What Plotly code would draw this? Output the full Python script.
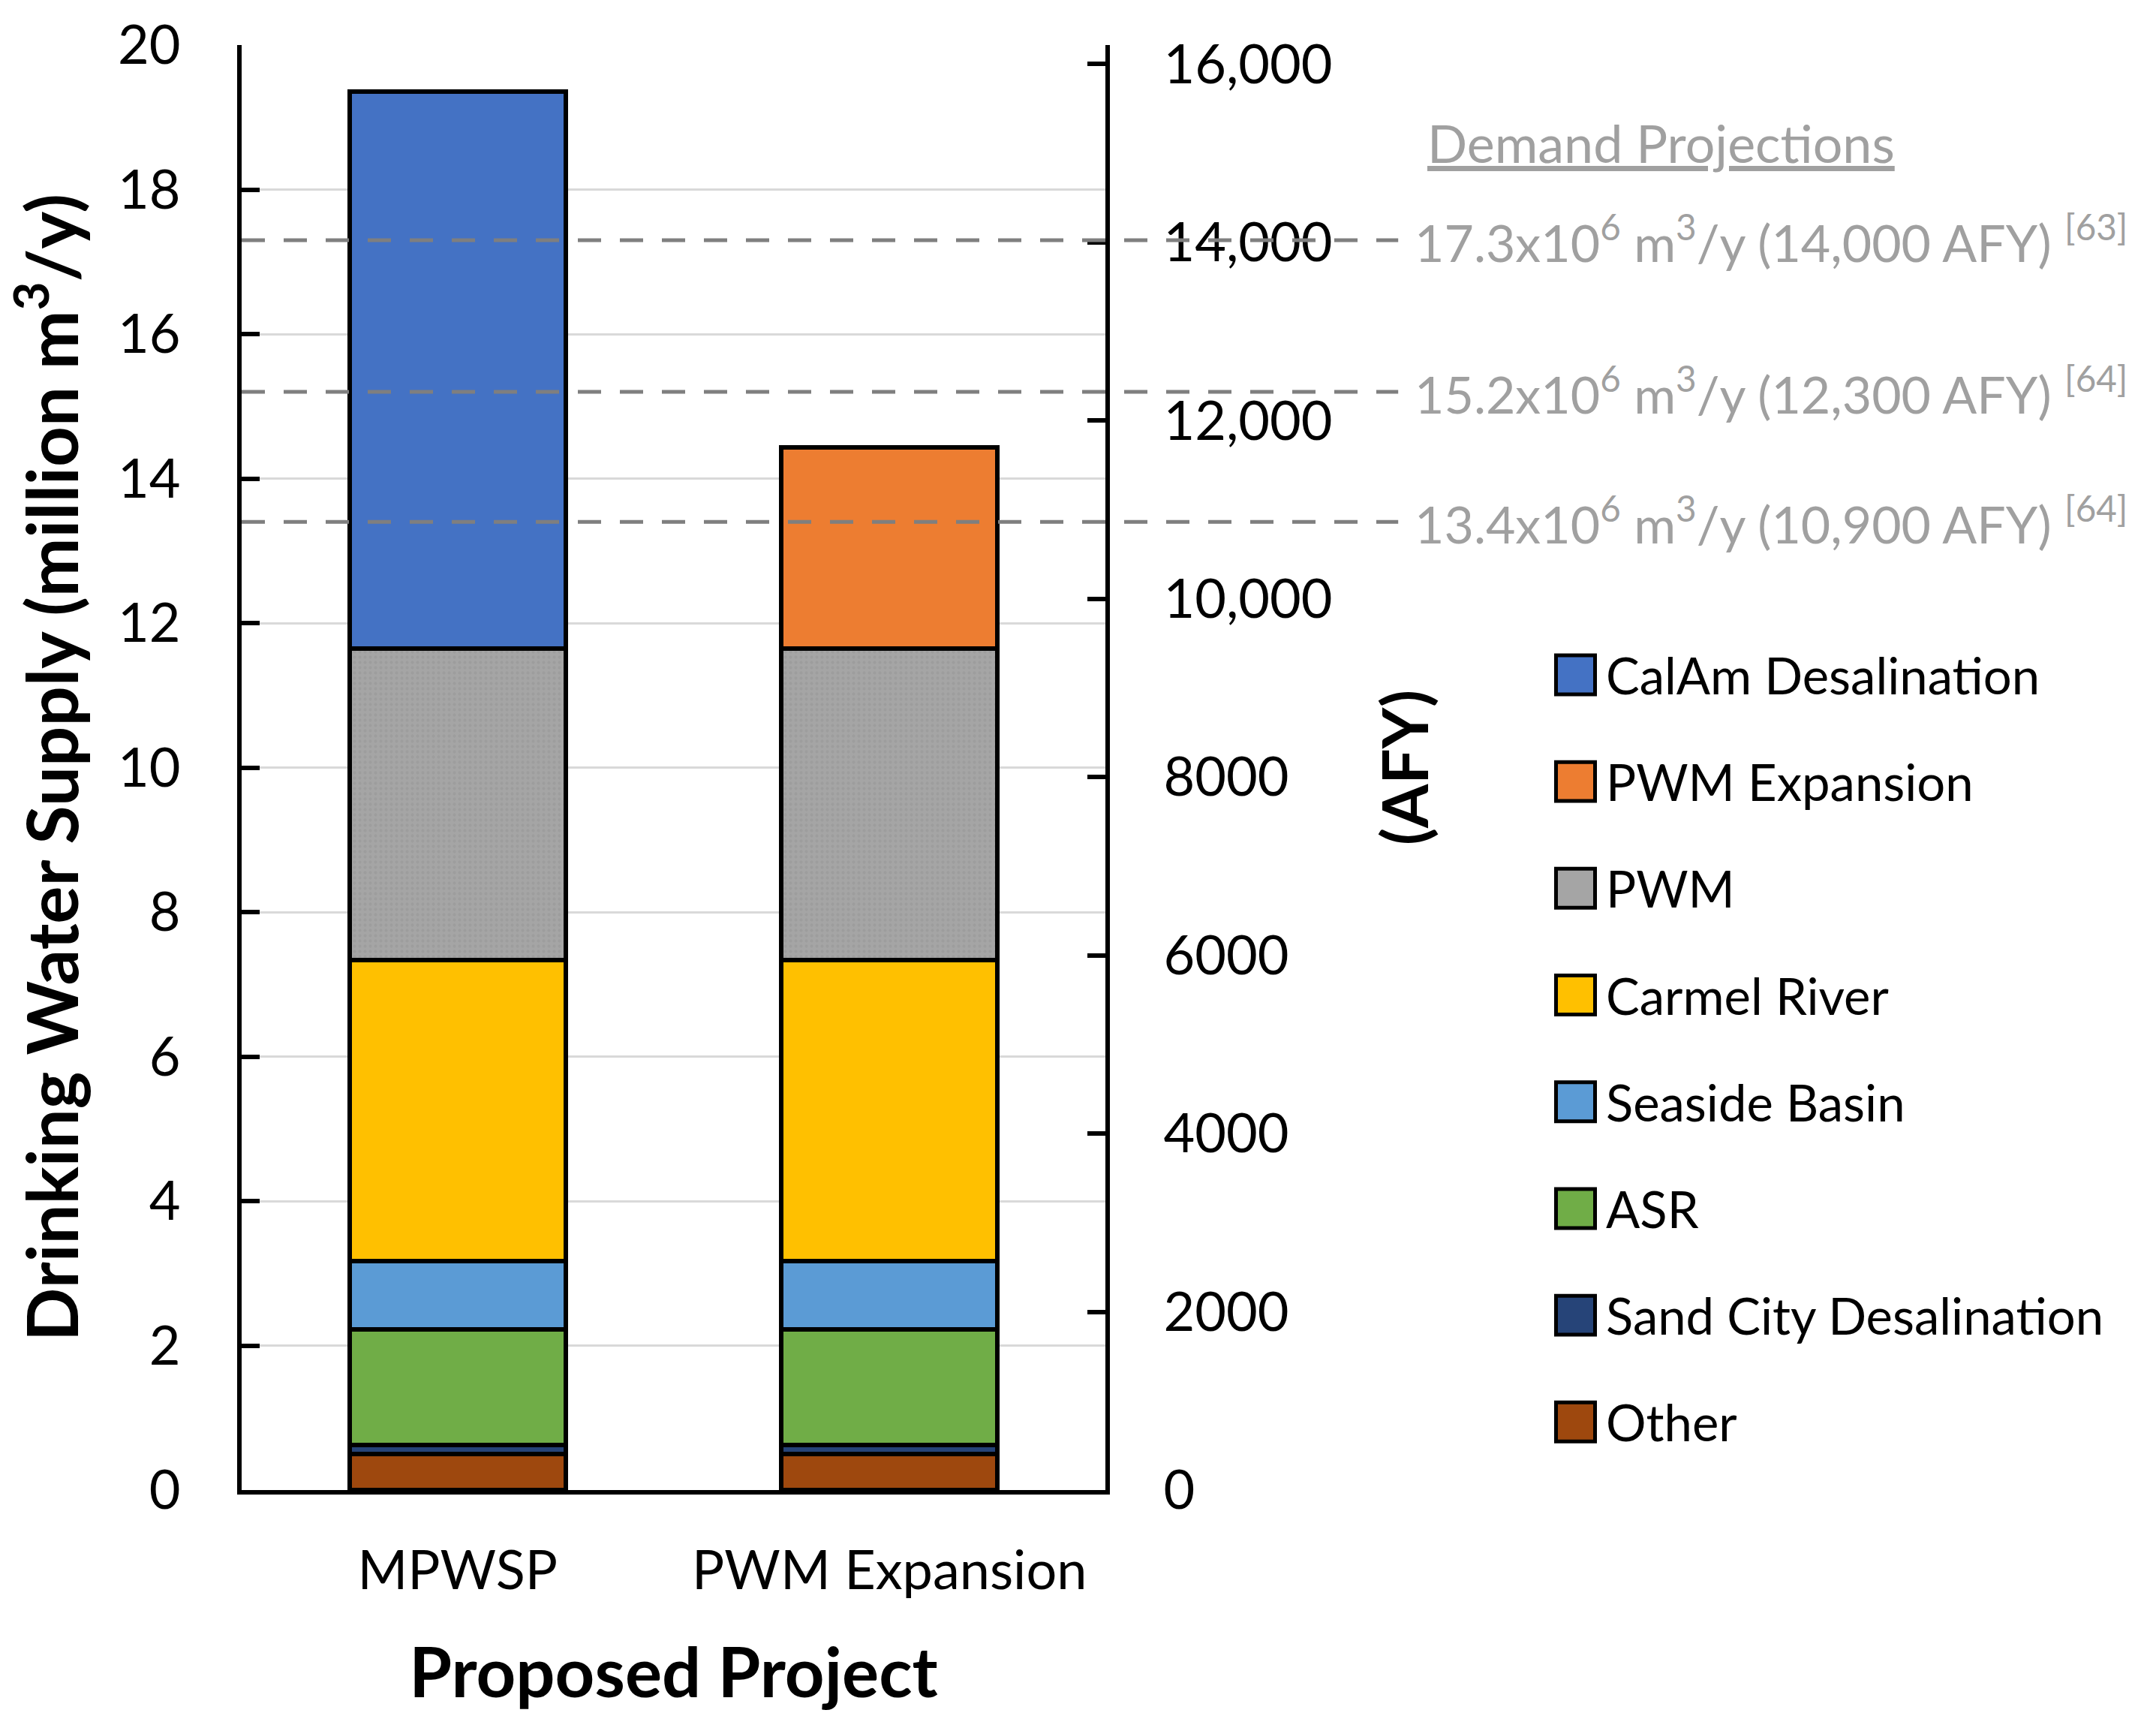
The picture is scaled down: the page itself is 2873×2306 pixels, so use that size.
import plotly.graph_objects as go

# ---------------- data ----------------
categories = ["MPWSP", "PWM Expansion"]

series_names = ["Other", "Sand City Desalination", "ASR", "Seaside Basin",
                "Carmel River", "PWM", "PWM Expansion", "CalAm Desalination"]
other = [0.50, 0.50]
sand_city = [0.12, 0.12]
asr = [1.60, 1.60]
seaside_basin = [0.95, 0.95]
carmel_river = [4.16, 4.16]
pwm = [4.32, 4.32]
pwm_expansion = [None, 2.78]
calam_desal = [7.71, None]
series_values = [other, sand_city, asr, seaside_basin, carmel_river, pwm,
                 pwm_expansion, calam_desal]
series_colors = ["#9E480E", "#264478", "#70AD47", "#5B9BD5", "#FFC000",
                 "#A5A5A5", "#ED7D31", "#4472C4"]

left_ticks = list(range(0, 21, 2))
afy_ticks = [0, 2000, 4000, 6000, 8000, 10000, 12000, 14000, 16000]
afy_labels = ["0", "2000", "4000", "6000", "8000", "10,000", "12,000", "14,000", "16,000"]
M3_PER_AF = 1233.48

demand_m3 = [17.3, 15.2, 13.4]
demand_afy = ["14,000", "12,300", "10,900"]
demand_refs = ["[63]", "[64]", "[64]"]

# ---------------- figure ----------------
FONT = "Lato"
fig = go.Figure()
for name, vals, col in zip(series_names, series_values, series_colors):
    marker = dict(color=col, line=dict(color="black", width=6))
    if name == "PWM":
        marker["pattern"] = dict(shape=".", fgcolor="#959595", bgcolor=col,
                                 size=7, solidity=0.3)
    fig.add_trace(go.Bar(x=categories, y=vals, name=name, marker=marker,
                         showlegend=False))

# totals in AFY on the secondary axis (invisible, keeps the AFY axis attached)
totals_afy = [sum(v[i] for v in series_values if v[i] is not None) * 1e6 / M3_PER_AF
              for i in range(len(categories))]
fig.add_trace(go.Scatter(x=categories, y=totals_afy, yaxis="y2", mode="markers",
                         marker=dict(opacity=0), showlegend=False, hoverinfo="skip"))

shapes = []
annotations = []

# demand projection lines and labels
for val, afy, ref in zip(demand_m3, demand_afy, demand_refs):
    shapes.append(dict(type="line", xref="paper", yref="y", x0=0, x1=1.339,
                       y0=val, y1=val, layer="above",
                       line=dict(color="#7F7F7F", width=5, dash="31px,25px")))
    annotations.append(dict(
        xref="paper", yref="y", x=1.356, y=val, xanchor="left", yanchor="middle",
        yshift=2, showarrow=False,
        text=f"{val}x10<sup>6</sup> m<sup>3</sup>/y ({afy} AFY) <sup>{ref}</sup>",
        font=dict(family=FONT, size=68, color="#A0A0A0")))

annotations.append(dict(
    xref="paper", yref="paper", x=1.643, y=0.9325, xanchor="center", yanchor="middle",
    showarrow=False, text="<u>Demand Projections</u>",
    font=dict(family=FONT, size=70, color="#A0A0A0")))

# custom legend (top-to-bottom = reversed stack order)
leg_y0 = 0.5642
leg_step = 0.07387
sq_w = 0.0452
sq_h = 0.0270
sq_cx = 1.5443
for i, (name, col) in enumerate(zip(series_names[::-1], series_colors[::-1])):
    cy = leg_y0 - i * leg_step
    shapes.append(dict(type="rect", xref="paper", yref="paper",
                       x0=sq_cx - sq_w / 2, x1=sq_cx + sq_w / 2,
                       y0=cy - sq_h / 2, y1=cy + sq_h / 2,
                       fillcolor=col, line=dict(color="black", width=5)))
    annotations.append(dict(xref="paper", yref="paper", x=1.578, y=cy,
                            xanchor="left", yanchor="middle", showarrow=False,
                            text=name, font=dict(family=FONT, size=67, color="black")))

fig.update_layout(
    width=2873, height=2306,
    margin=dict(l=322, r=1400, t=60, b=321),
    barmode="stack", bargap=0.5,
    plot_bgcolor="white", paper_bgcolor="white",
    font=dict(family=FONT, size=72, color="black"),
    xaxis=dict(showline=True, linecolor="black", linewidth=6, ticks="",
               showgrid=False, tickfont=dict(size=72), ticklabelstandoff=40,
               title=dict(text="<b>Proposed Project</b>", font=dict(size=92),
                          standoff=67)),
    yaxis=dict(range=[0, 20], tickvals=left_ticks, showline=True, linecolor="black",
               linewidth=6, ticks="inside", ticklen=24, tickwidth=6, tickcolor="black",
               showgrid=True, gridcolor="#D9D9D9", gridwidth=3, zeroline=False,
               tickfont=dict(size=72), ticklabelstandoff=61,
               title=dict(text="<b>Drinking Water Supply (million m<sup>3</sup>/y)</b>",
                          font=dict(size=94), standoff=25)),
    yaxis2=dict(overlaying="y", side="right", range=[0, 20e6 / M3_PER_AF],
                tickvals=afy_ticks, ticktext=afy_labels, showline=True,
                linecolor="black", linewidth=6, ticks="inside", ticklen=24,
                tickwidth=6, tickcolor="black", showgrid=False, zeroline=False,
                tickfont=dict(size=72), ticklabelstandoff=57,
                title=dict(text="<b>(AFY)</b>", font=dict(size=84), standoff=72)),
    shapes=shapes,
    annotations=annotations,
)

fig.write_html("out.html", config={"displayModeBar": False},
               post_script="document.body.style.margin='0';")
